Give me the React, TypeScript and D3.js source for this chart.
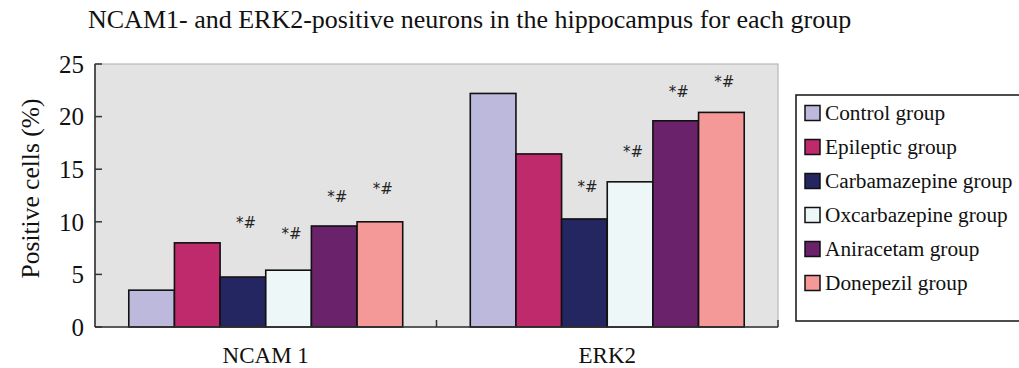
import React from "react";
import * as d3 from "d3";

const categories = ["NCAM 1", "ERK2"];
const groups = [
  "Control group",
  "Epileptic group",
  "Carbamazepine group",
  "Oxcarbazepine group",
  "Aniracetam group",
  "Donepezil group",
];
const ncam1Values = [3.5, 8.0, 4.75, 5.4, 9.6, 10.0];
const erk2Values = [22.2, 16.45, 10.27, 13.8, 19.6, 20.4];
const ncam1Marks = ["", "", "*#", "*#", "*#", "*#"];
const erk2Marks = ["", "", "*#", "*#", "*#", "*#"];
// heights (in % units) at which the significance marks sit
const ncam1MarkLevels = [0, 0, 9.9, 8.9, 12.4, 13.1];
const erk2MarkLevels = [0, 0, 13.3, 16.7, 22.4, 23.3];
const yTicks = [0, 5, 10, 15, 20, 25];
const colors = ["#BDB9DD", "#BE2A6C", "#232661", "#EEF7F8", "#6A226A", "#F59898"];

const seriesValues = [ncam1Values, erk2Values];
const seriesMarks = [ncam1Marks, erk2Marks];
const seriesMarkLevels = [ncam1MarkLevels, erk2MarkLevels];

const serif = "Liberation Serif, Times New Roman, serif";

export default function App() {
  const W = 1019;
  const H = 368;
  const left = 95;
  const right = 778;
  const top = 64;
  const bottom = 327;

  const x0 = d3.scaleBand<string>().domain(categories).range([left, right]).paddingInner(0).paddingOuter(0);
  const x1 = d3.scaleBand<string>().domain(groups).range([0, x0.bandwidth()]).paddingInner(0).paddingOuter(0.74);
  const y = d3.scaleLinear().domain([0, 25]).range([bottom, top]);

  return (
    <svg width={W} height={H} style={{ position: "absolute", left: 0, top: 0, background: "#fff", fontFamily: serif }}>
      <text x={88} y={28} fontSize={26} fill="#111" style={{ fontFamily: serif }}>
        NCAM1- and ERK2-positive neurons in the hippocampus for each group
      </text>
      {/* plot background */}
      <rect x={left} y={top} width={right - left} height={bottom - top} fill="#E3E3E3" stroke="#B8B8B8" strokeWidth={1.2} />
      {/* bars */}
      {categories.map((c, ci) => (
        <g key={c} transform={`translate(${x0(c)},0)`}>
          {groups.map((g, gi) => {
            const v = seriesValues[ci][gi];
            return (
              <rect
                key={g}
                x={x1(g)}
                y={y(v)}
                width={x1.bandwidth()}
                height={y(0) - y(v)}
                fill={colors[gi]}
                stroke="#111"
                strokeWidth={1.6}
              />
            );
          })}
          {groups.map((g, gi) =>
            seriesMarks[ci][gi] ? (
              <text
                key={g + "m"}
                x={(x1(g) as number) + x1.bandwidth() / 2 + 3}
                y={y(seriesMarkLevels[ci][gi])}
                dy="0.35em"
                textAnchor="middle"
                fontSize={15}
                style={{ fontFamily: "DejaVu Sans, sans-serif" }}
                fill="#222"
              >
                {seriesMarks[ci][gi]}
              </text>
            ) : null
          )}
        </g>
      ))}
      {/* axes */}
      <line x1={left} x2={left} y1={top} y2={bottom} stroke="#333" strokeWidth={1.6} />
      <line x1={left} x2={right} y1={bottom} y2={bottom} stroke="#333" strokeWidth={1.6} />
      {yTicks.map((t) => (
        <g key={t}>
          <line x1={left} x2={left + 7} y1={y(t)} y2={y(t)} stroke="#333" strokeWidth={1.5} />
          <text x={84} y={y(t)} dy="0.35em" textAnchor="end" fontSize={25} fill="#111" style={{ fontFamily: serif }}>
            {t}
          </text>
        </g>
      ))}
      {categories.map((c, ci) => (
        <g key={c + "x"}>
          <line
            x1={(x0(c) as number) + x0.bandwidth()}
            x2={(x0(c) as number) + x0.bandwidth()}
            y1={bottom}
            y2={bottom - 7}
            stroke="#333"
            strokeWidth={1.5}
          />
          <text x={(x0(c) as number) + x0.bandwidth() / 2} y={363} textAnchor="middle" fontSize={23} fill="#111" style={{ fontFamily: serif }}>
            {c}
          </text>
        </g>
      ))}
      <text transform={`translate(39,188.5) rotate(-90)`} textAnchor="middle" fontSize={25.5} fill="#111" style={{ fontFamily: serif }}>
        Positive cells (%)
      </text>
      {/* legend */}
      <rect x={796} y={95} width={260} height={226} fill="#fff" stroke="#222" strokeWidth={1.6} />
      {groups.map((g, gi) => (
        <g key={g + "l"} transform={`translate(805,${113 + gi * 34})`}>
          <rect x={0} y={-7.5} width={15} height={15} fill={colors[gi]} stroke="#111" strokeWidth={1.5} />
          <text x={20} y={0} dy="0.33em" fontSize={21.3} fill="#111" style={{ fontFamily: serif }}>
            {g}
          </text>
        </g>
      ))}
    </svg>
  );
}
